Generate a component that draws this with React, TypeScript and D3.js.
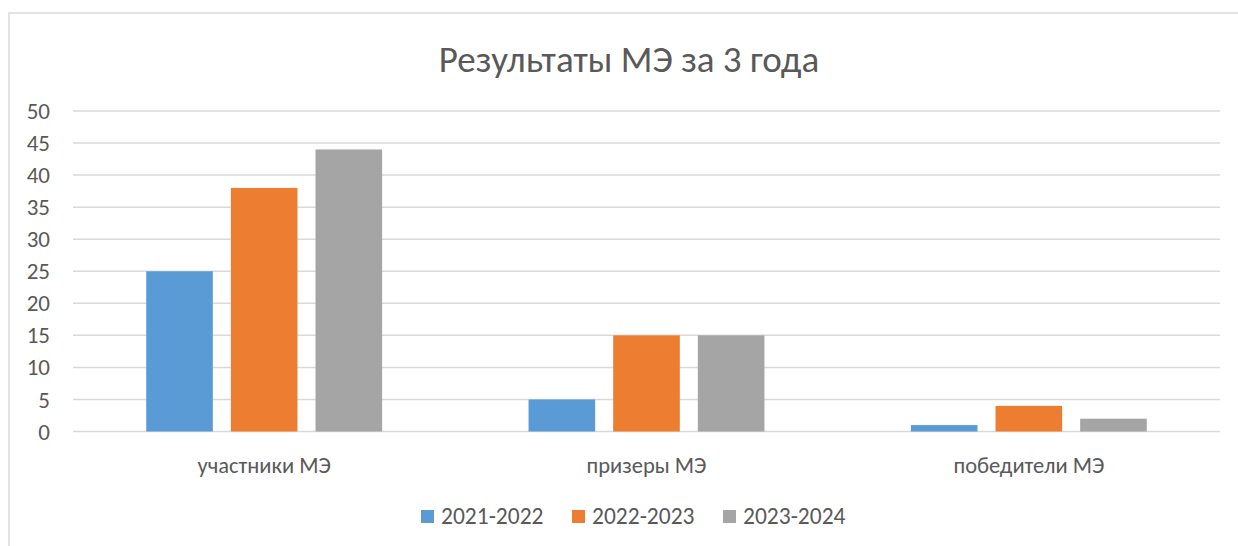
import * as d3 from "d3"

const categories = ["участники МЭ", "призеры МЭ", "победители МЭ"]
const seriesNames = ["2021-2022", "2022-2023", "2023-2024"]
const values2021 = [25, 5, 1]
const values2022 = [38, 15, 4]
const values2023 = [44, 15, 2]
const yTicks = [0, 5, 10, 15, 20, 25, 30, 35, 40, 45, 50]
const colors = ["#5b9bd5", "#ed7d31", "#a5a5a5"]

const width = 1238
const height = 546
const margin = { top: 111, right: 18, bottom: 114.5, left: 73 }
const font = "Calibri, Carlito, 'Open Sans', sans-serif"

export default function App() {
    const series = [values2021, values2022, values2023]
    const x0 = d3.scaleBand<string>()
        .domain(categories)
        .range([margin.left, width - margin.right])
        .paddingInner(0.383)
        .paddingOuter(0.1915)
    const x1 = d3.scaleBand<string>()
        .domain(seriesNames)
        .range([0, x0.bandwidth()])
        .paddingInner(0.213)
    const y = d3.scaleLinear().domain([0, 50]).range([height - margin.bottom, margin.top])
    const legendX = d3.scalePoint<string>().domain(seriesNames).range([421, 723])

    return (
        <svg width={width} height={height} style={{ position: "absolute", left: 0, top: 0 }} fontFamily={font}>
            <rect x={9} y={13} width={width + 20} height={height + 20} fill="white" stroke="#d9d9d9" strokeWidth={1.5} />
            <text x={629} y={72} textAnchor="middle" fontSize={37} fill="#595959">Результаты МЭ за 3 года</text>

            {yTicks.map((t) => (
                <g key={t}>
                    <line x1={margin.left} x2={width - margin.right} y1={y(t)} y2={y(t)} stroke="#d9d9d9" strokeWidth={1.5} />
                    <text x={50} y={y(t)} dy="0.35em" textAnchor="end" fontSize={23} fill="#595959">{t}</text>
                </g>
            ))}

            {categories.map((c, ci) => (
                <g key={c} transform={`translate(${x0(c)},0)`}>
                    {seriesNames.map((s, si) => (
                        <rect key={s} x={x1(s)} y={y(series[si][ci])} width={x1.bandwidth()}
                            height={y(0) - y(series[si][ci])} fill={colors[si]} />
                    ))}
                </g>
            ))}

            {categories.map((c) => (
                <text key={c} x={(x0(c) ?? 0) + x0.bandwidth() / 2} y={473} textAnchor="middle" fontSize={22.5} fill="#595959">{c}</text>
            ))}

            {seriesNames.map((s, si) => (
                <g key={s} transform={`translate(${legendX(s)},510)`}>
                    <rect x={0} y={0} width={13} height={13} fill={colors[si]} />
                    <text x={20} y={14} fontSize={23.5} fill="#595959">{s}</text>
                </g>
            ))}
        </svg>
    )
}
